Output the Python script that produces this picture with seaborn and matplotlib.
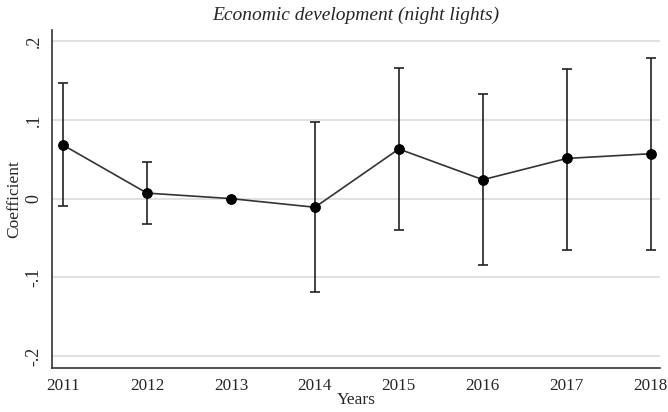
import numpy as np
import pandas as pd
import seaborn as sns
import matplotlib.pyplot as plt

# Coefficients and 95% CI bounds
years = [2011, 2012, 2013, 2014, 2015, 2016, 2017, 2018]
coef = [0.068, 0.007, 0.000, -0.011, 0.063, 0.024, 0.051, 0.057]
ci_low = [-0.010, -0.032, 0.000, -0.119, -0.040, -0.084, -0.065, -0.065]
ci_high = [0.147, 0.047, 0.000, 0.097, 0.166, 0.133, 0.165, 0.178]

df = pd.DataFrame({"year": years, "coef": coef, "lo": ci_low, "hi": ci_high})

sns.set_style("white")
plt.rcParams["font.family"] = ["Liberation Serif", "DejaVu Serif"]

fig = plt.figure(figsize=(6.68, 4.12), dpi=100)
ax = fig.add_axes([0.078, 0.107, 0.910, 0.820])

# grid lines at the y ticks
for v in [-0.2, -0.1, 0, 0.1, 0.2]:
    ax.axhline(v, color="#dcdcdc", lw=1.2, zorder=0)

# confidence intervals
ax.errorbar(df["year"], df["coef"],
            yerr=[df["coef"] - df["lo"], df["hi"] - df["coef"]],
            fmt="none", ecolor="#222222", elinewidth=1.2, capsize=3.5, capthick=1.2, zorder=2)

# coefficient line with markers
sns.lineplot(data=df, x="year", y="coef", ax=ax, color="#333333", lw=1.2,
             marker="o", markersize=7, markerfacecolor="black", markeredgecolor="black",
             zorder=3)

ax.set_xlim(2010.87, 2018.11)
ax.set_ylim(-0.215, 0.214)
ax.set_xticks(years)
ax.set_xticklabels([str(y) for y in years], fontsize=12.3)
ax.set_yticks([-0.2, -0.1, 0, 0.1, 0.2])
ax.set_yticklabels(["-.2", "-.1", "0", ".1", ".2"], fontsize=13, rotation=90, va="center")
ax.tick_params(axis="both", direction="out", length=5, width=1, color="#333333", pad=2)

for s in ["top", "right"]:
    ax.spines[s].set_visible(False)
for s in ["left", "bottom"]:
    ax.spines[s].set_color("#333333")
    ax.spines[s].set_linewidth(1.2)

ax.set_xlabel("Years", fontsize=12.5, labelpad=-1)
ax.set_ylabel("Coefficient", fontsize=12.5, labelpad=2)
ax.set_title("Economic development (night lights)", fontsize=14, style="italic", pad=7)

fig.savefig("out.png", dpi=100)
